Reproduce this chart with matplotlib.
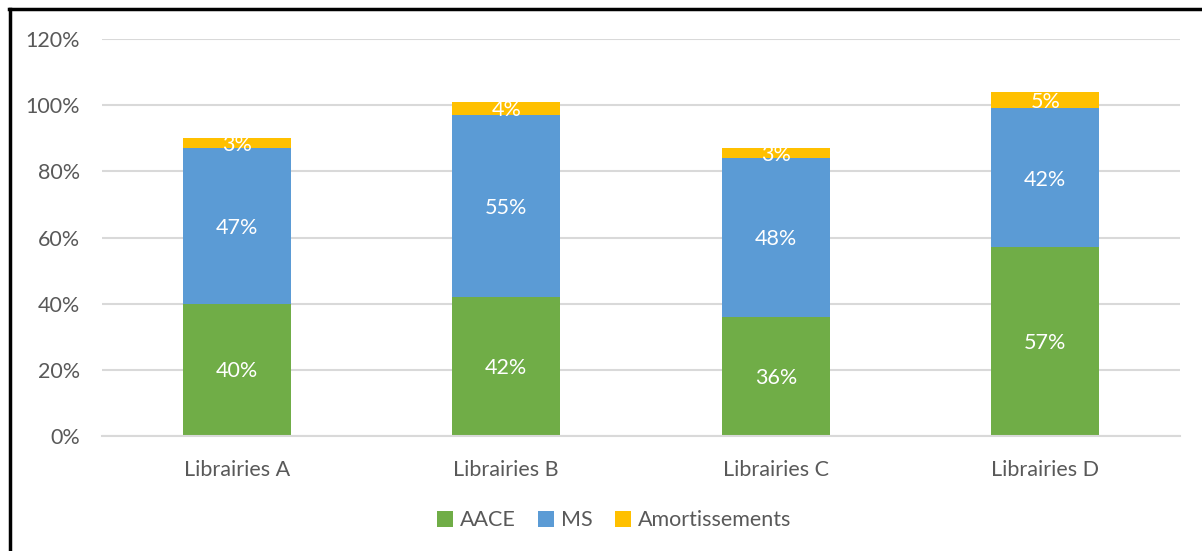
import matplotlib.pyplot as plt
from matplotlib.lines import Line2D
from matplotlib.ticker import PercentFormatter
import numpy as np

plt.rcParams['font.family'] = ['Lato', 'DejaVu Sans']

libraries = ['Librairies A', 'Librairies B', 'Librairies C', 'Librairies D']
aace = [40, 42, 36, 57]
ms = [47, 55, 48, 42]
amort = [3, 4, 3, 5]

series = [('AACE', aace, '#70AD47'),
          ('MS', ms, '#5B9BD5'),
          ('Amortissements', amort, '#FFC000')]

fig = plt.figure(figsize=(12.02, 5.51), dpi=100)
ax = fig.add_axes([0.0849, 0.2087, 0.8968, 0.7205])

x = np.arange(len(libraries))
bottom = np.zeros(len(libraries))
for name, vals, color in series:
    vals = np.array(vals, dtype=float)
    ax.bar(x, vals, 0.4, bottom=bottom, color=color, label=name, zorder=2)
    for xi, b, v in zip(x, bottom, vals):
        ax.text(xi, b + v / 2 - 0.5, '%d%%' % v, ha='center', va='center',
                color='white', fontsize=15.5, zorder=3)
    bottom += vals

ax.set_xlim(-0.5, 3.5)
ax.set_ylim(0, 120)
ax.set_yticks(range(0, 121, 20))
ax.yaxis.set_major_formatter(PercentFormatter(decimals=0))
ax.set_xticks(x)
ax.set_xticklabels(libraries)
ax.tick_params(axis='both', length=0, labelsize=15.5, labelcolor='#595959')
ax.tick_params(axis='y', pad=16)
ax.tick_params(axis='x', pad=17)
ax.grid(axis='y', color='#D9D9D9', linewidth=1.5, zorder=0)
for side in ['top', 'right', 'left']:
    ax.spines[side].set_visible(False)
ax.spines['bottom'].set_color('#D9D9D9')
ax.spines['bottom'].set_linewidth(1.5)

fig.legend(loc='center', bbox_to_anchor=(0.511, 0.056), ncol=3, frameon=False,
           fontsize=15.5, labelcolor='#595959', handlelength=0.75, handleheight=0.75,
           handletextpad=0.35, columnspacing=1.0)

# frame around the chart (left and top edges)
fig.add_artist(Line2D([0.0083, 0.0083], [0, 0.983], color='black', linewidth=2.5,
                      transform=fig.transFigure))
fig.add_artist(Line2D([0.0075, 1], [0.983, 0.983], color='black', linewidth=2.5,
                      transform=fig.transFigure))

fig.savefig('out.png', dpi=100, facecolor='white')
